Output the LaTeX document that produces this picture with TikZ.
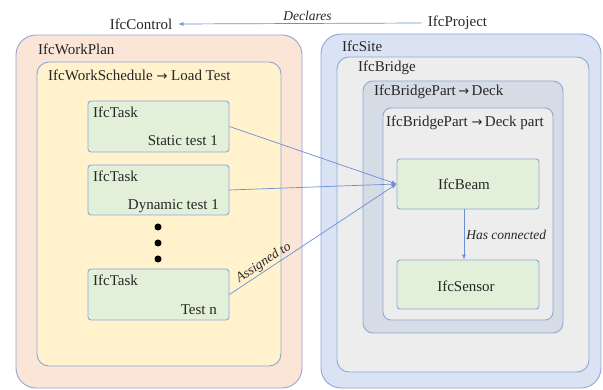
\documentclass[tikz,border=0pt]{standalone}
\usepackage{fontspec}
\setmainfont{Liberation Serif}
\newfontfamily\arrfont{DejaVu Sans}
\usetikzlibrary{arrows.meta}
\definecolor{bord}{HTML}{8EA7D6}
\definecolor{lnk}{HTML}{6A8FD6}
\definecolor{pinkf}{HTML}{FBE5D6}
\definecolor{yelf}{HTML}{FFF2CC}
\definecolor{grnf}{HTML}{E2F0D9}
\definecolor{sitef}{HTML}{DAE3F3}
\definecolor{greyf}{HTML}{EDEDED}
\definecolor{deckf}{HTML}{D6DCE5}
\newcommand{\myarr}{{\arrfont\fontsize{13}{15}\selectfont →}}
\tikzset{
  box/.style={draw=bord, line width=0.9pt, inner sep=0pt},
  txt/.style={inner sep=0pt, text=black!85, font=\fontsize{15}{18}\selectfont},
  lbl/.style={inner sep=1pt, text=black!85, font=\fontsize{13.5}{16}\selectfont\itshape},
  link/.style={draw=lnk, line width=0.7pt, -{Latex[length=5pt,width=4pt]}},
  dot/.style={circle, fill=black, inner sep=0pt, minimum size=7pt}
}
\begin{document}
\begin{tikzpicture}[x=1pt,y=-1pt]
\useasboundingbox (0,0) rectangle (603,390);
% top
\node[txt] (ctrl) at (141,24) {IfcControl};
\node[txt] (proj) at (457.5,23) {IfcProject};
\draw[link] (proj.west) ++(-6,0) coordinate (pj) (pj) -- ([xshift=6]ctrl.east) node[lbl, pos=0.47, above=1pt] (decl) {Declares};
% left containers
\node[box, fill=pinkf, rounded corners=20, minimum width=286, minimum height=353] (wp) at (159,211.5) {};
\node[txt, anchor=west] (wpl) at (38,49) {IfcWorkPlan};
\node[box, fill=yelf, rounded corners=12, minimum width=244, minimum height=304] (ws) at (159,214) {};
\node[txt, anchor=west] (wsl) at (48,75) {IfcWorkSchedule \myarr{} Load Test};
% tasks
\node[box, fill=grnf, rounded corners=3, minimum width=141, minimum height=51] (t1) at (158.5,126.5) {};
\node[txt, anchor=west] (t1a) at (93,112) {IfcTask};
\node[txt, anchor=east] (t1b) at (218,141) {Static test 1};
\node[box, fill=grnf, rounded corners=3, minimum width=141, minimum height=50] (t2) at (158.5,190) {};
\node[txt, anchor=west] (t2a) at (93,176) {IfcTask};
\node[txt, anchor=east] (t2b) at (219,206) {Dynamic test 1};
\node[dot] (d1) at (158,227) {};
\node[dot] (d2) at (158,243) {};
\node[dot] (d3) at (158,259) {};
\node[box, fill=grnf, rounded corners=3, minimum width=141, minimum height=51] (t3) at (158.5,294.5) {};
\node[txt, anchor=west] (t3a) at (93,280) {IfcTask};
\node[txt, anchor=east] (t3b) at (217,310) {Test n};
% right containers
\node[box, fill=sitef, rounded corners=20, minimum width=280, minimum height=354] (site) at (461,211) {};
\node[txt, anchor=west] (sitel) at (342,46) {IfcSite};
\node[box, fill=greyf, rounded corners=12, minimum width=252, minimum height=315] (br) at (463,214.5) {};
\node[txt, anchor=west] (brl) at (358,68) {IfcBridge};
\node[box, fill=deckf, rounded corners=10, minimum width=200, minimum height=252] (deck) at (463,207) {};
\node[txt, anchor=west] (deckl) at (374,92) {IfcBridgePart\,\myarr{}\,Deck};
\node[box, fill=greyf, rounded corners=8, minimum width=170, minimum height=212] (dp) at (468,214) {};
\node[txt, anchor=west] (dpl) at (386,123) {IfcBridgePart \myarr{}\,Deck part};
\node[box, fill=grnf, rounded corners=3, minimum width=142, minimum height=50] (beam) at (468,184) {};
\node[txt] (beaml) at (464,184) {IfcBeam};
\node[box, fill=grnf, rounded corners=3, minimum width=142, minimum height=49] (sens) at (468,284.5) {};
\node[txt] (sensl) at (466,286) {IfcSensor};
% links
\draw[link] (t1.east) -- (beam.west);
\draw[link] (t2.east) -- (beam.west);
\draw[link] (t3.east) -- (beam.west) node[lbl, pos=0.23, sloped, above=0pt] (asg) {Assigned to};
\draw[link] ([xshift=-4]beam.south) -- ([xshift=-4]sens.north) node[lbl, midway, right=1pt] (hc) {Has connected};
\end{tikzpicture}
\end{document}
